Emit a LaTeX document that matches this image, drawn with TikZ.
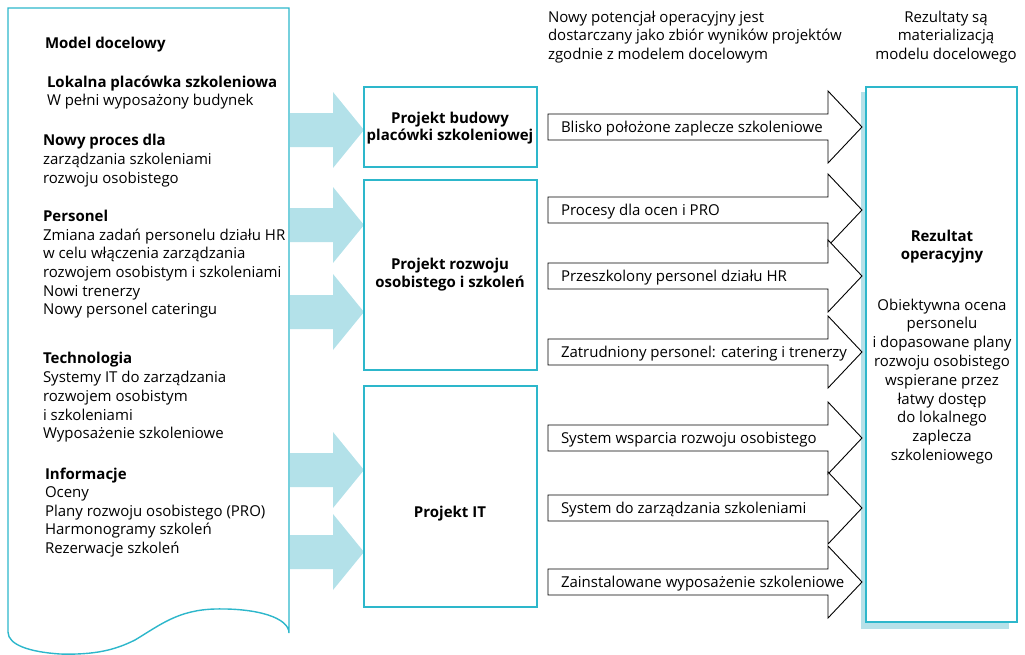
\documentclass[tikz,border=0pt]{standalone}
\usepackage{fontspec}
\setmainfont{Open Sans}
\definecolor{tealline}{HTML}{2DB7CB}
\definecolor{arrowblue}{HTML}{B3E1E9}
\definecolor{shadowblue}{HTML}{B6E1E9}
\begin{document}
\begin{tikzpicture}[x=1pt,y=-1pt,
  every node/.style={inner sep=0pt, outer sep=0pt},
  body/.style={font=\fontsize{15}{18.7}\selectfont, align=left, anchor=base west},
  head/.style={font=\fontsize{15}{18.7}\selectfont\bfseries, align=left, anchor=base west},
  ctext/.style={font=\fontsize{15}{18.8}\selectfont, align=center, anchor=base},
  btext/.style={font=\fontsize{15}{17.5}\selectfont\bfseries, align=center, anchor=base},
  pbox/.style={draw=tealline, line width=1.4pt, fill=white, anchor=north west},
  feed/.style={fill=arrowblue},
  outarrow/.style={draw=black, line width=0.9pt, fill=white, line join=miter},
  lbl/.style={font=\fontsize{15}{18}\selectfont, anchor=base west}
]
\useasboundingbox (0,0) rectangle (1025,654);

% target model document with wavy bottom edge
\draw[tealline, line width=1.4pt, fill=white]
  (8,632) -- (8,8) -- (289,8) -- (289,633)
  .. controls (289,618) and (258,608) .. (215,609)
  .. controls (178,610) and (160,625) .. (135,640)
  .. controls (115,650) and (95,655) .. (60,654)
  .. controls (30,652) and (8,645) .. cycle;

% feeding arrows into the projects
\foreach \yy in {130,225,312,470,552}{
  \fill[feed] (290,\yy-17) -- (333,\yy-17) -- (333,\yy-38) -- (364,\yy)
    -- (333,\yy+38) -- (333,\yy+17) -- (290,\yy+17) -- cycle;
}

% left document text (multi-line nodes are anchored on their last line)
\node[head] (m0) at (45,48) {Model docelowy};
\node[head] (m1) at (47,87) {Lokalna placówka szkoleniowa};
\node[body] (m1b) at (47,105) {W pełni wyposażony budynek};
\node[head] (m2) at (43,145) {Nowy proces dla};
\node[body] (m2b) at (43,183.2) {zarządzania szkoleniami\\rozwoju osobistego};
\node[head] (m3) at (43,221) {Personel};
\node[body] (m3b) at (43,314.8) {Zmiana zadań personelu działu HR\\w celu włączenia zarządzania\\rozwojem osobistym i szkoleniami\\Nowi trenerzy\\Nowy personel cateringu};
\node[head] (m4) at (43,363.3) {Technologia};
\node[body] (m4b) at (43,438.8) {Systemy IT do zarządzania\\rozwojem osobistym\\i szkoleniami\\Wyposażenie szkoleniowe};
\node[head] (m5) at (45,479.3) {Informacje};
\node[body] (m5b) at (45,553.4) {Oceny\\Plany rozwoju osobistego (PRO)\\Harmonogramy szkoleń\\Rezerwacje szkoleń};

% projects
\node[pbox, minimum width=173pt, minimum height=80pt] (p1) at (364,87) {};
\node[pbox, minimum width=173pt, minimum height=190pt] (p2) at (364,180) {};
\node[pbox, minimum width=173pt, minimum height=221pt] (p3) at (364,386) {};
\node[btext, font=\fontsize{15}{17}\selectfont\bfseries] (p1t) at (450,140) {Projekt budowy\\placówki szkoleniowej};
\node[btext, font=\fontsize{15}{18}\selectfont\bfseries] (p2t) at (450,287) {Projekt rozwoju\\osobistego i szkoleń};
\node[btext] (p3t) at (450,517) {Projekt IT};

% operational result with its shadow
\fill[shadowblue] (861,92) rectangle (1009,629);
\node[draw=tealline, line width=1.6pt, fill=white, anchor=north west,
      minimum width=151pt, minimum height=535pt] (res) at (866,87) {};
\node[btext] (rest) at (942,259) {Rezultat\\operacyjny};
\node[ctext] (resb) at (942,460.4) {Obiektywna ocena\\personelu\\i dopasowane plany\\rozwoju osobistego\\wspierane przez\\łatwy dostęp\\do lokalnego\\zaplecza\\szkoleniowego};

% project outputs
\foreach \yy/\txt/\nm in {
  127/{Blisko położone zaplecze szkoleniowe}/o1,
  210/{Procesy dla ocen i PRO}/o2,
  276/{Przeszkolony personel działu HR}/o3,
  352/{Zatrudniony personel: catering i trenerzy}/o4,
  438/{System wsparcia rozwoju osobistego}/o5,
  508/{System do zarządzania szkoleniami}/o6,
  582/{Zainstalowane wyposażenie szkoleniowe}/o7}{
  \draw[outarrow] (548,\yy-13) -- (828,\yy-13) -- (828,\yy-36) -- (862,\yy)
    -- (828,\yy+36) -- (828,\yy+13) -- (548,\yy+13) -- cycle;
  \node[lbl] (\nm) at (561,\yy+5.5) {\txt};
}

% captions above the columns
\node[body, font=\fontsize{15}{18.5}\selectfont] (cap1) at (548,59) {Nowy potencjał operacyjny jest\\dostarczany jako zbiór wyników projektów\\zgodnie z modelem docelowym};
\node[ctext, font=\fontsize{15}{18.5}\selectfont] (cap2) at (946,59) {Rezultaty są\\materializacją\\modelu docelowego};
\end{tikzpicture}
\end{document}
